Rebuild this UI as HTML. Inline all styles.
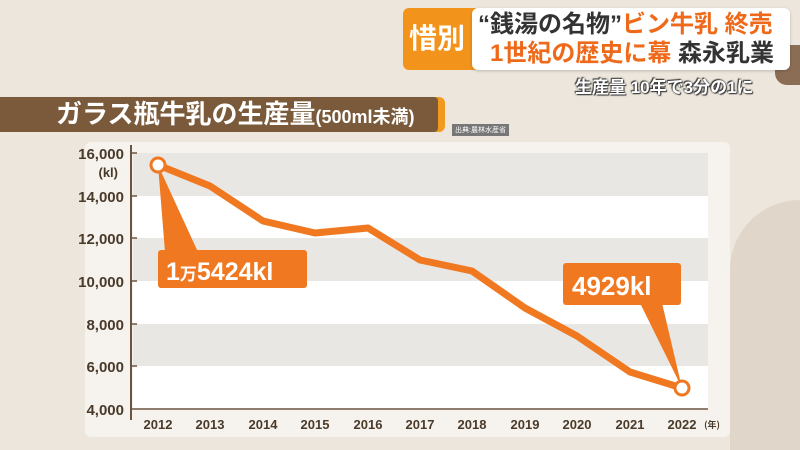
<!DOCTYPE html>
<html style="overflow:hidden;width:800px;height:450px"><head><meta charset="utf-8"><style>
body{margin:0;width:800px;height:450px;overflow:hidden;background:#ede6dc;font-family:"Liberation Sans","Noto Sans CJK JP",sans-serif;position:relative}
.a{position:absolute}
</style></head><body>
<div class="a" style="left:730px;top:200px;width:70px;height:250px;background:#e0d7ca;border-radius:70px 0 0 0"></div>
<div class="a" style="left:775px;top:45px;width:25px;height:40px;border-radius:12px 0 0 12px;background:#8b6d55"></div>
<!-- headline -->
<div class="a" style="left:403px;top:8px;width:80px;height:62px;background:#f2941c;border-radius:6px 0 0 6px;color:#fff;font-weight:bold;font-size:28px;line-height:62px;padding-left:6px;box-sizing:border-box">惜別</div>
<div class="a" style="left:472px;top:8px;width:318px;height:62px;background:#fff;border-radius:6px;box-shadow:0 1px 3px rgba(0,0,0,.2)"></div>
<div class="a" style="left:478px;top:11px;font-size:24px;font-weight:bold;color:#333;white-space:nowrap;line-height:28px">“銭湯の名物”<span style="color:#ee6a1a">ビン牛乳 終売</span></div>
<div class="a" style="left:490px;top:40px;font-size:24px;font-weight:bold;color:#ee6a1a;white-space:nowrap;line-height:28px">1世紀の歴史に幕 <span style="color:#333">森永乳業</span></div>
<div class="a" style="left:575px;top:73px;font-size:17px;font-weight:bold;color:#fff;white-space:nowrap;text-shadow:0 0 2px #333,1px 1px 1px #333,-1px -1px 1px #333">生産量 10年で3分の1に</div>
<!-- title bar -->
<div class="a" style="left:0;top:97px;width:445px;height:35px;background:#f29a1e;border-radius:0 6px 6px 0"></div>
<div class="a" style="left:0;top:97px;width:438px;height:35px;background:#7a5a3a;border-radius:0 4px 4px 0"></div>
<div class="a" style="left:56px;top:99px;font-size:26px;font-weight:bold;color:#fff;white-space:nowrap;line-height:30px">ガラス瓶牛乳の生産量<span style="font-size:18px">(500ml未満)</span></div>
<div class="a" style="left:452px;top:124px;font-size:7px;color:#fff;background:#777;padding:1px 3px">出典:農林水産省</div>
<!-- panel -->
<div class="a" style="left:85px;top:142px;width:645px;height:295px;background:#f6f3ee;border-radius:6px"></div>
<svg class="a" style="left:0;top:0" width="800" height="450">
<rect x="133" y="153" width="575" height="256" fill="#fff"/>
<rect x="133" y="153" width="575" height="43" fill="#e9e7e4"/>
<rect x="133" y="238" width="575" height="43" fill="#e9e7e4"/>
<rect x="133" y="324" width="575" height="42" fill="#e9e7e4"/>
<line x1="131" y1="145" x2="131" y2="420" stroke="#6b5540" stroke-width="2"/>
<line x1="131" y1="409" x2="708" y2="409" stroke="#6b5540" stroke-width="1.5"/>
<g stroke="#6b5540" stroke-width="1.5"><line x1="131" y1="153" x2="137" y2="153"/><line x1="131" y1="196" x2="137" y2="196"/><line x1="131" y1="238" x2="137" y2="238"/><line x1="131" y1="281" x2="137" y2="281"/><line x1="131" y1="324" x2="137" y2="324"/><line x1="131" y1="366" x2="137" y2="366"/></g>
<g font-family="Liberation Sans" font-size="15" font-weight="bold" fill="#4a3a2a" text-anchor="end">
<text x="124" y="159">16,000</text><text x="118" y="177" font-size="13">(kl)</text>
<text x="124" y="202">14,000</text><text x="124" y="244">12,000</text><text x="124" y="287">10,000</text>
<text x="124" y="330">8,000</text><text x="124" y="372">6,000</text><text x="124" y="415">4,000</text>
</g>
<g font-family="Liberation Sans" font-size="13" font-weight="bold" fill="#4a3a2a" text-anchor="middle">
<text x="158" y="429">2012</text><text x="210" y="429">2013</text><text x="263" y="429">2014</text><text x="315" y="429">2015</text><text x="368" y="429">2016</text><text x="420" y="429">2017</text><text x="472" y="429">2018</text><text x="525" y="429">2019</text><text x="577" y="429">2020</text><text x="630" y="429">2021</text><text x="682" y="429">2022</text>
<text x="712" y="428" font-size="9" font-family="Noto Sans CJK JP">(年)</text>
</g>
<polyline points="158,165 210,186 263,221 315,233 368,228 420,260 472,271 525,308 577,336 630,372 682,388" fill="none" stroke="#f07820" stroke-width="7" stroke-linejoin="round"/>
<polygon points="158,165 165,252 198,252" fill="#f07820"/>
<rect x="158" y="250" width="149" height="38" rx="3" fill="#f07820"/>
<text x="166" y="280" font-family="Liberation Sans,Noto Sans CJK JP" font-size="25" font-weight="bold" fill="#fff">1<tspan font-size="17">万</tspan>5424kl</text>
<polygon points="682,388 640,303 662,303" fill="#f07820"/>
<rect x="563" y="263" width="118" height="42" rx="3" fill="#f07820"/>
<text x="572" y="295" font-family="Liberation Sans" font-size="26" font-weight="bold" fill="#fff">4929kl</text>
<circle cx="158" cy="165" r="7" fill="#fff" stroke="#f07820" stroke-width="3"/>
<circle cx="682" cy="388" r="7" fill="#fff" stroke="#f07820" stroke-width="3"/>
</svg>
</body></html>
